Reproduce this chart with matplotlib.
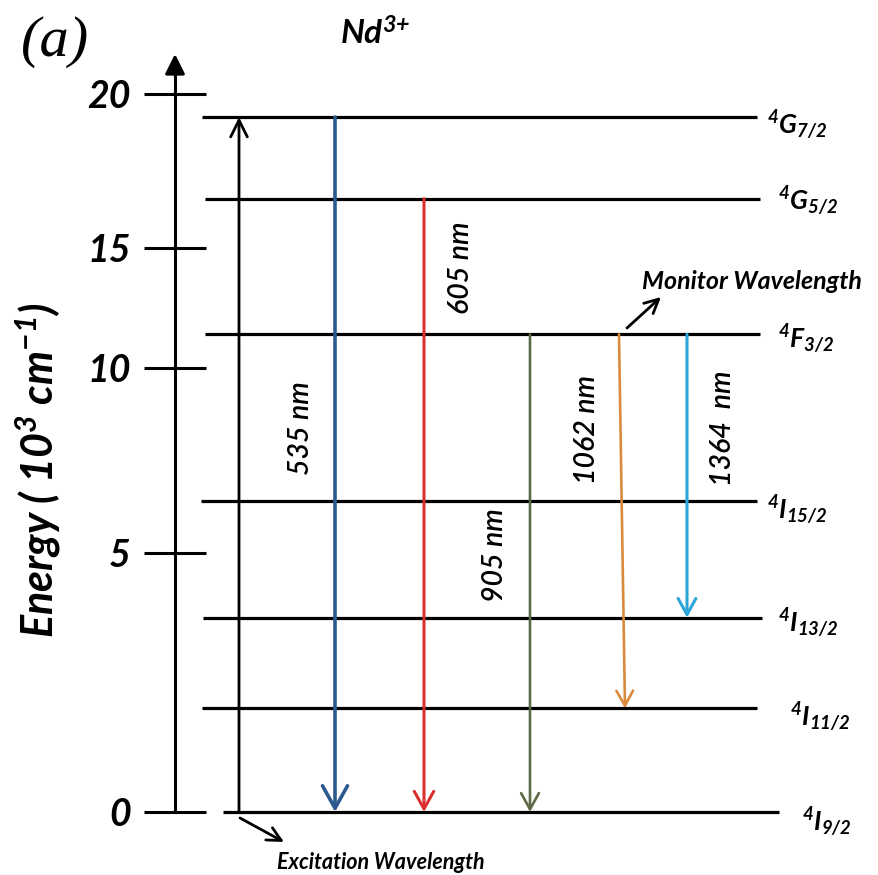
import numpy as np
import matplotlib
matplotlib.use('Agg')
import matplotlib.pyplot as plt

# schematic (non-linear) energy axis: tick energy -> image row in pixels
tick_energy = [0, 5, 10, 15, 20]
tick_row = [812, 553, 368, 248, 94]
tick_labels = ['0', '5', '10', '15', '20']

# Nd3+ levels (10^3 cm^-1)
level_keys = ['4I9/2', '4I11/2', '4I13/2', '4I15/2', '4F3/2', '4G5/2', '4G7/2']
level_energy = [0.0, 2.0, 3.75, 6.4, 11.4, 16.6, 19.25]
level_names = [r'$^{4}I_{9/2}$', r'$^{4}I_{11/2}$', r'$^{4}I_{13/2}$', r'$^{4}I_{15/2}$',
               r'$^{4}F_{3/2}$', r'$^{4}G_{5/2}$', r'$^{4}G_{7/2}$']

# emission transitions
trans_from = ['4G7/2', '4G5/2', '4F3/2', '4F3/2', '4F3/2']
trans_to = ['4I9/2', '4I9/2', '4I9/2', '4I11/2', '4I13/2']
trans_labels = ['535 nm', '605 nm', '905 nm', '1062 nm', '1364  nm']
trans_colors = ['#2d5a8e', '#d9302f', '#5d6a46', '#d98a3c', '#2aa6d8']

E = dict(zip(level_keys, level_energy))

plt.rcParams['mathtext.fontset'] = 'custom'
plt.rcParams['mathtext.rm'] = 'Lato:italic:bold'
plt.rcParams['mathtext.it'] = 'Lato:italic:bold'
plt.rcParams['mathtext.bf'] = 'Lato:italic:bold'
FONT = dict(family='Lato', style='italic', weight='bold')

# piecewise linear scale, extrapolated on both ends
ext_e = np.array([-100.0] + tick_energy + [100.0])
ext_row = np.array([812 + 100 * 259 / 5] + tick_row + [94 - 80 * 154 / 5])


def fwd(e):
    return np.interp(e, ext_e, -ext_row)


def inv(v):
    return np.interp(v, -ext_row, ext_e)


def row2e(r):
    return inv(-np.asarray(r, dtype=float))


fig = plt.figure(figsize=(8.79, 8.75), dpi=100)
ax = fig.add_axes([0, 0, 1, 1])
ax.set_yscale('function', functions=(fwd, inv))
ax.set_xlim(0, 879)
ax.set_ylim(row2e(875), row2e(0))

for s in ['top', 'right', 'bottom']:
    ax.spines[s].set_visible(False)
ax.spines['left'].set_position(('data', 175))
ax.spines['left'].set_linewidth(2.2)
ax.spines['left'].set_bounds(0, row2e(62))
ax.set_xticks([])
ax.set_yticks(tick_energy)
ax.set_yticklabels(tick_labels, fontsize=27, **FONT)
ax.tick_params(axis='y', direction='inout', length=44, width=2.2, pad=10)
ax.annotate('', xy=(175, row2e(54)), xytext=(175, row2e(75)),
            arrowprops=dict(arrowstyle='-|>,head_length=0.6,head_width=0.3',
                            color='black', lw=2.2, shrinkA=0, shrinkB=0,
                            mutation_scale=20))

# energy levels
lvl_x0 = [223, 202, 203, 201, 205, 205, 202]
lvl_x1 = [779, 757, 762, 757, 760, 760, 757]
lab_x = [802, 790, 778, 767, 778, 778, 767]
lab_dy = [10, 9, 6, 9, 5, 3, 8]
for e, x0, x1, name, lx, dy in zip(level_energy, lvl_x0, lvl_x1, level_names, lab_x, lab_dy):
    ax.plot([x0, x1], [e, e], color='black', lw=2.3, solid_capstyle='butt')
    r = -fwd(e)
    ax.text(lx, row2e(r + dy), name, fontsize=19, ha='left', va='center')

# excitation arrow
ax.annotate('', xy=(239, E['4G7/2']), xytext=(239, E['4I9/2']),
            arrowprops=dict(arrowstyle='->,head_length=0.6,head_width=0.3',
                            color='black', lw=2.0, shrinkA=0, shrinkB=0,
                            mutation_scale=20))

# emission arrows
arr_x0 = [335, 424, 530, 619, 687]
arr_x1 = [335, 424, 530, 625, 687]
arr_lw = [2.6, 2.2, 1.9, 1.9, 2.2]
arr_hw = [0.45, 0.35, 0.32, 0.3, 0.32]
lab_cx = [301, 461, 495, 587, 723]
lab_cy = [428, 268, 555, 430, 428]
for fr, to, lab, c, x0, x1, lw, hw, cx, cy in zip(trans_from, trans_to, trans_labels, trans_colors,
                                                   arr_x0, arr_x1, arr_lw, arr_hw, lab_cx, lab_cy):
    ax.annotate('', xy=(x1, E[to]), xytext=(x0, E[fr]),
                arrowprops=dict(arrowstyle='->,head_length=%.2f,head_width=%.2f' % (hw * 1.8, hw),
                                color=c, lw=lw, shrinkA=0, shrinkB=0, mutation_scale=20))
    ax.text(cx, row2e(cy), lab, rotation=90, ha='center', va='center',
            fontsize=20.5, family='Lato', style='italic', weight='semibold')

# annotations
ax.annotate('', xy=(661, row2e(297)), xytext=(627, row2e(328)),
            arrowprops=dict(arrowstyle='->,head_length=0.5,head_width=0.25', color='black',
                            lw=2.0, shrinkA=0, shrinkB=0, mutation_scale=20))
ax.text(642, row2e(282), 'Monitor Wavelength', fontsize=18, ha='left', va='center', **FONT)
ax.annotate('', xy=(284, row2e(842)), xytext=(240, row2e(818)),
            arrowprops=dict(arrowstyle='->,head_length=0.5,head_width=0.25', color='black',
                            lw=2.0, shrinkA=0, shrinkB=0, mutation_scale=20))
ax.text(277, row2e(863), 'Excitation Wavelength', fontsize=15.5, ha='left', va='center', **FONT)

ax.text(375, row2e(33), r'Nd$^{3{+}}$', fontsize=24, ha='center', va='center', **FONT)
ax.text(55, row2e(42), '(a)', fontsize=42, ha='center', va='center',
        family='Liberation Serif', style='italic')
ax.text(38, row2e(470), r'Energy ( 10$^{3}$ cm$^{-1}$)', rotation=90, fontsize=31,
        ha='center', va='center', **FONT)

fig.savefig('out.png', dpi=100)
